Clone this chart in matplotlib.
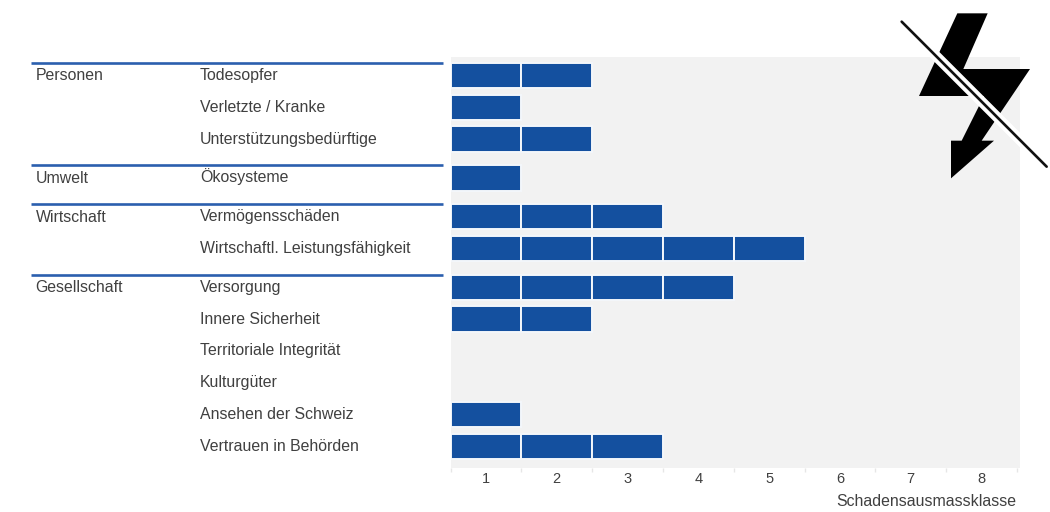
import matplotlib
matplotlib.use("Agg")
import matplotlib.pyplot as plt
from matplotlib.patches import Polygon

plt.rcParams['font.family'] = ['Liberation Sans', 'DejaVu Sans']

groups = ["Personen", "Umwelt", "Wirtschaft", "Gesellschaft"]
group_rows = [
    ["Todesopfer", "Verletzte / Kranke", "Unterstützungsbedürftige"],
    ["Ökosysteme"],
    ["Vermögensschäden", "Wirtschaftl. Leistungsfähigkeit"],
    ["Versorgung", "Innere Sicherheit", "Territoriale Integrität", "Kulturgüter",
     "Ansehen der Schweiz", "Vertrauen in Behörden"],
]
group_values = [
    [2, 1, 2],
    [1],
    [3, 5],
    [4, 2, 0, 0, 1, 3],
]
classes = [1, 2, 3, 4, 5, 6, 7, 8]
xlabel = "Schadensausmassklasse"

W, H = 1050, 512
BLUE = "#14509f"
LINE = "#2b5fae"
TXT = "#404040"
BG = "#f2f2f2"
FS = 11.4

fig = plt.figure(figsize=(W / 100, H / 100), dpi=100, facecolor="white")
ax = fig.add_axes([450.5 / W, (H - 468) / H, 569.5 / W, 411 / H], facecolor=BG)
ax.set_xlim(0, 569.5 / 70.8)
ax.set_ylim(468, 57)
for s in ax.spines.values():
    s.set_visible(False)
ax.set_yticks([])
ax.set_xticks([c - 0.5 for c in classes], [str(c) for c in classes])
ax.set_xticks(range(len(classes) + 1), minor=True)
ax.tick_params(axis="x", which="major", length=0, pad=3, labelsize=10.5, labelcolor=TXT)
ax.tick_params(axis="x", which="minor", length=3, width=1, color="#e6e6e6")

ov = fig.add_axes([0, 0, 1, 1], facecolor="none", zorder=5)
ov.set_xlim(0, W)
ov.set_ylim(H, 0)
ov.axis("off")

y = 75.5
for g, rows, vals in zip(groups, group_rows, group_values):
    ov.plot([31, 443], [y - 12.5, y - 12.5], color=LINE, lw=1.9, solid_capstyle="butt")
    ov.text(35.5, y + 5, g, fontsize=FS, color=TXT, va="baseline")
    for r, v in zip(rows, vals):
        ov.text(200, y + 4.5, r, fontsize=FS, color=TXT, va="baseline")
        for i in range(v):
            ax.barh(y, 1, left=i, height=25.5, color=BLUE, edgecolor="#f4f7fb", linewidth=1.4)
        y += 31.8
    y += 7

ov.text(1016, 506, xlabel, fontsize=FS, color=TXT, ha="right", va="baseline")

# Durchgestrichener Blitz
bolt = [(232, 40), (323, 40), (250, 207), (450, 207), (305, 422), (342, 422), (213, 535),
        (213, 422), (245, 422), (312, 288), (117, 288)]
ov.add_patch(Polygon([(880 + a / 3, b / 3) for a, b in bolt], closed=True, color="black", lw=0))
sx = [880 + 65 / 3, 880 + 500 / 3]
sy = [65 / 3, 500 / 3]
ov.plot(sx, sy, color="white", lw=7.5, solid_capstyle="butt")
ov.plot(sx, sy, color="#111111", lw=1.9, solid_capstyle="round")

fig.savefig("out.png", dpi=100, facecolor="white")
